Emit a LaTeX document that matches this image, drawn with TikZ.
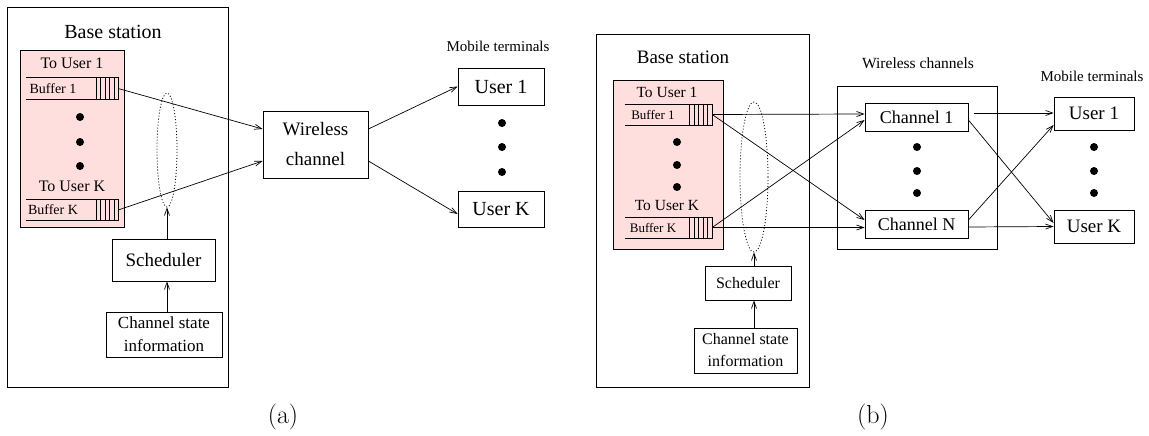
\documentclass[tikz,border=0pt]{standalone}
\usepackage{fontspec}
\newfontfamily\timesf{Liberation Serif}
\usetikzlibrary{shapes.geometric,arrows.meta,positioning}
\definecolor{bufpink}{RGB}{255,222,222}
\newcommand{\dfont}[2]{\timesf\fontsize{#1}{#2}\selectfont}

\begin{document}
\begin{tikzpicture}[x=1pt, y=-1pt,
		box/.style={draw, rectangle, inner sep=0pt, line width=0.8pt},
		buf/.style={inner sep=0pt, minimum height=21pt},
		bdot/.style={circle, fill, inner sep=0pt, minimum size=8pt},
		conn/.style={-{Straight Barb[length=7pt,width=5pt]}, line width=0.7pt},
		selring/.style={ellipse, draw, line width=0.8pt, dash pattern=on 1pt off 2pt, inner sep=0pt},
		txt/.style={inner sep=0pt}
	]
	\useasboundingbox (0,0) rectangle (1149,436);

	% (a) single wireless channel
	\node[box, minimum width=221pt, minimum height=380pt] (bs1) at (117.5,197) {};
	\node[txt, font=\dfont{20}{24}] (bst1) at (113,32) {Base station};
	\node[box, line width=0.5pt, fill=bufpink, minimum width=104pt, minimum height=177pt] (q1) at (72,138.5) {};
	\node[txt, font=\dfont{16}{19}] (to1) at (72,63) {To User 1};
	\node[buf, minimum width=92pt] (b1) at (72,88.5) {};
	\node[buf, minimum width=92pt] (bK) at (72,210) {};
	\foreach \b in {b1,bK} {
		\draw[line width=0.6pt] (\b.north west) -- (\b.north east) -- (\b.south east) -- (\b.south west);
		\foreach \k in {1,...,5}
			\draw[line width=0.6pt] ([xshift=-\k*4.4pt]\b.north east) -- ([xshift=-\k*4.4pt]\b.south east);
	}
	\node[txt, font=\dfont{14}{17}] (bt1) at (53,89) {Buffer 1};
	\node[txt, font=\dfont{16}{19}] (toK) at (72,186) {To User K};
	\node[txt, font=\dfont{14}{17}] (btK) at (53,210) {Buffer K};
	\foreach \y/\n in {117/1,142/2,166/3}
		\node[bdot] (qd\n) at (80,\y) {};
	\node[selring, minimum width=20pt, minimum height=114pt] (sel1) at (167,150) {};
	\node[box, minimum width=103pt, minimum height=42pt, font=\dfont{19}{23}] (sch1) at (163.5,260) {Scheduler};
	\node[box, minimum width=116pt, minimum height=45pt, align=center, font=\dfont{17}{23}] (csi1) at (164,334.5) {Channel state\\information};
	\draw[conn] (csi1.north -| sel1.south) -- (sch1.south -| sel1.south);
	\draw[conn] (sch1.north -| sel1.south) -- (sel1.south);

	\node[box, minimum width=105pt, minimum height=67pt, align=center, font=\dfont{19}{30}] (wc) at (315.5,144.5) {Wireless\\channel};
	\draw[conn] (b1.east) -- ([yshift=15.5pt]wc.west);
	\draw[conn] (bK.east) -- ([yshift=-16.5pt]wc.west);

	\node[txt, font=\dfont{15}{18}] (mt1) at (498,46) {Mobile terminals};
	\node[box, minimum width=86pt, minimum height=37pt, font=\dfont{20}{24}] (u1) at (501,86.5) {User 1};
	\node[box, minimum width=86pt, minimum height=36pt, font=\dfont{20}{24}] (uK) at (501,209) {User K};
	\foreach \y/\n in {123/1,147/2,172/3}
		\node[bdot] (ud\n) at (502,\y) {};
	\draw[conn] ([yshift=15.5pt]wc.east) -- (u1.west);
	\draw[conn] ([yshift=-16.5pt]wc.east) -- ([yshift=-5pt]uK.west);

	\node[font=\fontsize{26}{30}\selectfont] (capa) at (283,417) {(a)};

	% (b) several wireless channels
	\node[box, minimum width=213pt, minimum height=353pt] (bs2) at (702.5,210.5) {};
	\node[txt, font=\dfont{19}{23}] (bst2) at (683,57) {Base station};
	\node[box, line width=0.5pt, fill=bufpink, minimum width=110pt, minimum height=169pt] (q2) at (668,164.5) {};
	\node[txt, font=\dfont{15.5}{19}] (to21) at (667,92) {To User 1};
	\node[buf, minimum width=87pt] (c1) at (668.5,114.5) {};
	\node[buf, minimum width=87pt] (cK) at (668.5,227.5) {};
	\foreach \b in {c1,cK} {
		\draw[line width=0.6pt] (\b.north west) -- (\b.north east) -- (\b.south east) -- (\b.south west);
		\foreach \k in {1,...,5}
			\draw[line width=0.6pt] ([xshift=-\k*4.6pt]\b.north east) -- ([xshift=-\k*4.6pt]\b.south east);
	}
	\node[txt, font=\dfont{13}{16}] (ct1) at (653,115) {Buffer 1};
	\node[txt, font=\dfont{15.5}{19}] (to2K) at (667,205) {To User K};
	\node[txt, font=\dfont{13}{16}] (ctK) at (653,228) {Buffer K};
	\foreach \y/\n in {142/1,165/2,187/3}
		\node[bdot] (rd\n) at (677,\y) {};
	\node[selring, minimum width=28pt, minimum height=150pt] (sel2) at (754,177) {};
	\node[box, minimum width=86pt, minimum height=34pt, font=\dfont{16}{19}] (sch2) at (748,283) {Scheduler};
	\node[box, minimum width=103pt, minimum height=45pt, align=center, font=\dfont{16}{22}] (csi2) at (745.5,350.5) {Channel state\\information};
	\draw[conn] (csi2.north -| sel2.south) -- (sch2.south -| sel2.south);
	\draw[conn] (sch2.north -| sel2.south) -- (sel2.south);

	\node[txt, font=\dfont{15.5}{19}] (wct) at (918,63) {Wireless channels};
	\node[box, minimum width=160pt, minimum height=163pt] (wcb) at (917,167.5) {};
	\node[box, minimum width=103pt, minimum height=28pt, font=\dfont{18}{22}] (ch1) at (916.5,117) {Channel 1};
	\node[box, minimum width=103pt, minimum height=28pt, font=\dfont{18}{22}] (chN) at (916.5,224) {Channel N};
	\foreach \y/\n in {147/1,171/2,193/3}
		\node[bdot] (cd\n) at (917,\y) {};

	\node[txt, font=\dfont{15}{18}] (mt2) at (1092,76) {Mobile terminals};
	\node[box, minimum width=80pt, minimum height=33pt, font=\dfont{19}{23}] (v1) at (1094,113.5) {User 1};
	\node[box, minimum width=80pt, minimum height=33pt, font=\dfont{19}{23}] (vK) at (1094,226.5) {User K};
	\foreach \y/\n in {147/1,171/2,193/3}
		\node[bdot] (vd\n) at (1094,\y) {};

	\draw[conn] (c1.east) -- ([yshift=3pt]ch1.west);
	\draw[conn] (c1.east) -- ([yshift=4pt]chN.west);
	\draw[conn] (cK.east) -- ([yshift=-3pt]ch1.west);
	\draw[conn] (cK.east) -- ([yshift=-3.5pt]chN.west);
	\draw[conn] ([xshift=6pt,yshift=4pt]ch1.east) -- ([yshift=0.5pt]v1.west);
	\draw[conn] ([yshift=-3pt]ch1.east) -- ([yshift=3.5pt]vK.west);
	\draw[conn] ([yshift=4pt]chN.east) -- ([yshift=-11.5pt]v1.west);
	\draw[conn] ([yshift=-3pt]chN.east) -- (vK.west);

	\node[font=\fontsize{26}{30}\selectfont] (capb) at (873,417) {(b)};
\end{tikzpicture}
\end{document}
